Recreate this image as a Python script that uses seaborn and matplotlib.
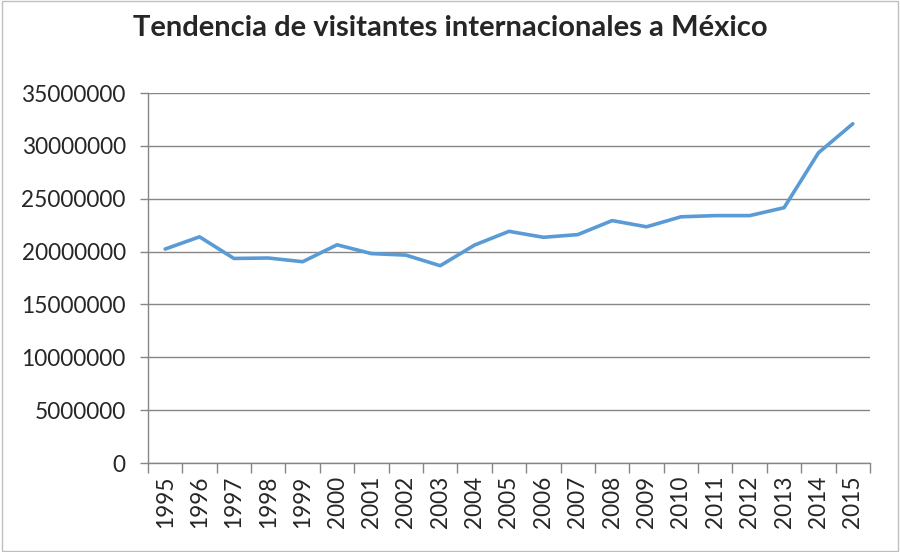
import matplotlib
matplotlib.use("Agg")
import matplotlib.pyplot as plt
import seaborn as sns
import pandas as pd
import numpy as np
from matplotlib.ticker import FixedLocator
from matplotlib.patches import Rectangle

years = [str(y) for y in range(1995, 2016)]
visitors = [20241000, 21395000, 19351000, 19392000, 19043000, 20641000,
            19810000, 19667000, 18665000, 20618000, 21915000, 21353000,
            21606000, 22931000, 22346000, 23290000, 23403000, 23403000,
            24151000, 29346000, 32093000]
yticks = list(range(0, 35000001, 5000000))
title = "Tendencia de visitantes internacionales a México"

sns.set_theme(style="white")
plt.rcParams['font.family'] = ['Lato', 'DejaVu Sans']

df = pd.DataFrame({"year": years, "visitors": visitors})

fig = plt.figure(figsize=(9, 5.52), dpi=100)
ax = fig.add_axes([0.1644, 0.1612, 0.8023, 0.6703])

sns.lineplot(data=df, x="year", y="visitors", ax=ax, color="#5B9BD5",
             linewidth=2.6, sort=False)

ax.set_xlim(-0.5, len(years) - 0.5)
ax.set_ylim(0, 35000000)
ax.set_yticks(yticks)
ax.set_yticklabels([str(v) for v in yticks], fontsize=16.3)
ax.set_xticks(range(len(years)))
ax.set_xticklabels(years, rotation=90, fontsize=16.3)
ax.xaxis.set_minor_locator(FixedLocator(np.arange(-0.5, len(years), 1.0)))
ax.tick_params(axis='x', which='major', length=0, pad=9)
ax.tick_params(axis='x', which='minor', length=7, width=1, color="#868686", direction='out', bottom=True)
ax.tick_params(axis='y', which='major', length=6, width=1, color="#868686", direction='out', left=True, pad=10)
ax.set_xlabel("")
ax.set_ylabel("")
ax.grid(axis='y', color="#868686", linewidth=1)
ax.set_axisbelow(True)
for s in ['top', 'right']:
    ax.spines[s].set_visible(False)
for s in ['left', 'bottom']:
    ax.spines[s].set_color("#868686")
    ax.spines[s].set_linewidth(1)

fig.text(0.5, 0.95, title, ha='center', va='center', fontsize=21, fontweight='bold')
fig.patches.append(Rectangle((0.002, 0.002), 0.996, 0.996, transform=fig.transFigure,
                             fill=False, edgecolor="#BFBFBF", linewidth=1))

fig.savefig("out.png", dpi=100)
